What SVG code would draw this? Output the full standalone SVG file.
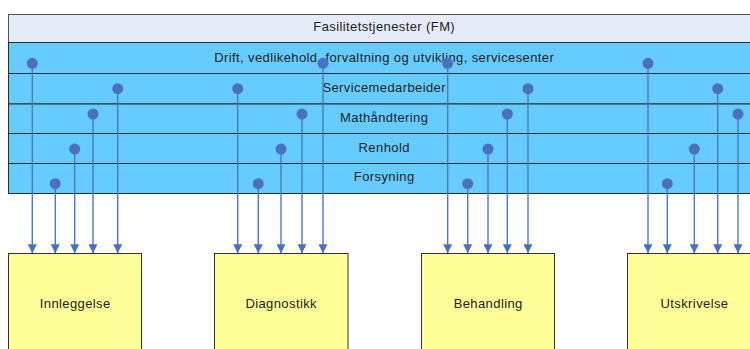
<svg xmlns="http://www.w3.org/2000/svg" width="750" height="349" viewBox="0 0 750 349">
<style>
text{font-family:"Liberation Sans",Arial,sans-serif;font-size:13px;letter-spacing:0.4px;fill:#222;text-anchor:middle}
.row{fill:#66CCFF;stroke:#2b2b2b;stroke-width:1}
.hdr{fill:#E6ECF7;stroke:#555;stroke-width:1}
.box{fill:#FFFF99;stroke:#333;stroke-width:1}
.c{stroke:#4A78C8;stroke-width:1.4;fill:none;marker-end:url(#ah)}
.d{fill:#4A70BF}
</style>
<defs>
<marker id="ah" viewBox="0 0 10 10" refX="10" refY="5" markerWidth="10" markerHeight="9" markerUnits="userSpaceOnUse" orient="auto">
<path d="M0,0 L10,5 L0,10 z" fill="#4A70BF"/>
</marker>
</defs>
<g id="fm">
<rect class="hdr" x="8.5" y="14.5" width="752" height="28"/>
<text x="384.2" y="30.7">Fasilitetstjenester (FM)</text>
</g>
<g id="drift">
<rect class="row" x="8.5" y="42.5" width="752" height="31"/>
<text x="384.2" y="61.7">Drift, vedlikehold, forvaltning og utvikling, servicesenter</text>
</g>
<g id="servicemedarbeider">
<rect class="row" x="8.5" y="73.5" width="752" height="30.5"/>
<text x="384.2" y="92.2">Servicemedarbeider</text>
</g>
<g id="mathandtering">
<rect class="row" x="8.5" y="104" width="752" height="29.5"/>
<text x="384.2" y="121.7">Mathåndtering</text>
</g>
<g id="renhold">
<rect class="row" x="8.5" y="133.5" width="752" height="30"/>
<text x="384.2" y="152.2">Renhold</text>
</g>
<g id="forsyning">
<rect class="row" x="8.5" y="163.5" width="752" height="30"/>
<text x="384.2" y="181.2">Forsyning</text>
</g>
<g id="connectors">
<path class="c" d="M32.3,63.3V253.3"/><circle class="d" cx="32.3" cy="63.3" r="5.5"/>
<path class="c" d="M117.7,88.7V253.3"/><circle class="d" cx="117.7" cy="88.7" r="5.5"/>
<path class="c" d="M93,114V253.3"/><circle class="d" cx="93" cy="114" r="5.5"/>
<path class="c" d="M74.7,149V253.3"/><circle class="d" cx="74.7" cy="149" r="5.5"/>
<path class="c" d="M55.3,183.7V253.3"/><circle class="d" cx="55.3" cy="183.7" r="5.5"/>
<path class="c" d="M323,63.3V253.3"/><circle class="d" cx="323" cy="63.3" r="5.5"/>
<path class="c" d="M237.7,88.7V253.3"/><circle class="d" cx="237.7" cy="88.7" r="5.5"/>
<path class="c" d="M302,114V253.3"/><circle class="d" cx="302" cy="114" r="5.5"/>
<path class="c" d="M281,149V253.3"/><circle class="d" cx="281" cy="149" r="5.5"/>
<path class="c" d="M258.3,183.7V253.3"/><circle class="d" cx="258.3" cy="183.7" r="5.5"/>
<path class="c" d="M447.7,63.3V253.3"/><circle class="d" cx="447.7" cy="63.3" r="5.5"/>
<path class="c" d="M528,88.7V253.3"/><circle class="d" cx="528" cy="88.7" r="5.5"/>
<path class="c" d="M507.3,114V253.3"/><circle class="d" cx="507.3" cy="114" r="5.5"/>
<path class="c" d="M488,149V253.3"/><circle class="d" cx="488" cy="149" r="5.5"/>
<path class="c" d="M467.7,183.7V253.3"/><circle class="d" cx="467.7" cy="183.7" r="5.5"/>
<path class="c" d="M648,63.3V253.3"/><circle class="d" cx="648" cy="63.3" r="5.5"/>
<path class="c" d="M717.7,88.7V253.3"/><circle class="d" cx="717.7" cy="88.7" r="5.5"/>
<path class="c" d="M738,114V253.3"/><circle class="d" cx="738" cy="114" r="5.5"/>
<path class="c" d="M694.3,149V253.3"/><circle class="d" cx="694.3" cy="149" r="5.5"/>
<path class="c" d="M667.3,183.7V253.3"/><circle class="d" cx="667.3" cy="183.7" r="5.5"/>
</g>
<g id="innleggelse">
<rect class="box" x="8.5" y="253.5" width="133" height="110"/>
<text x="75.2" y="308.3">Innleggelse</text>
</g>
<g id="diagnostikk">
<rect class="box" x="214.5" y="253.5" width="133.5" height="110"/>
<text x="281.2" y="308.3">Diagnostikk</text>
</g>
<g id="behandling">
<rect class="box" x="421.5" y="253.5" width="133" height="110"/>
<text x="488.2" y="308.3">Behandling</text>
</g>
<g id="utskrivelse">
<rect class="box" x="627.5" y="253.5" width="133.5" height="110"/>
<text x="694.5" y="308.3">Utskrivelse</text>
</g>
</svg>
